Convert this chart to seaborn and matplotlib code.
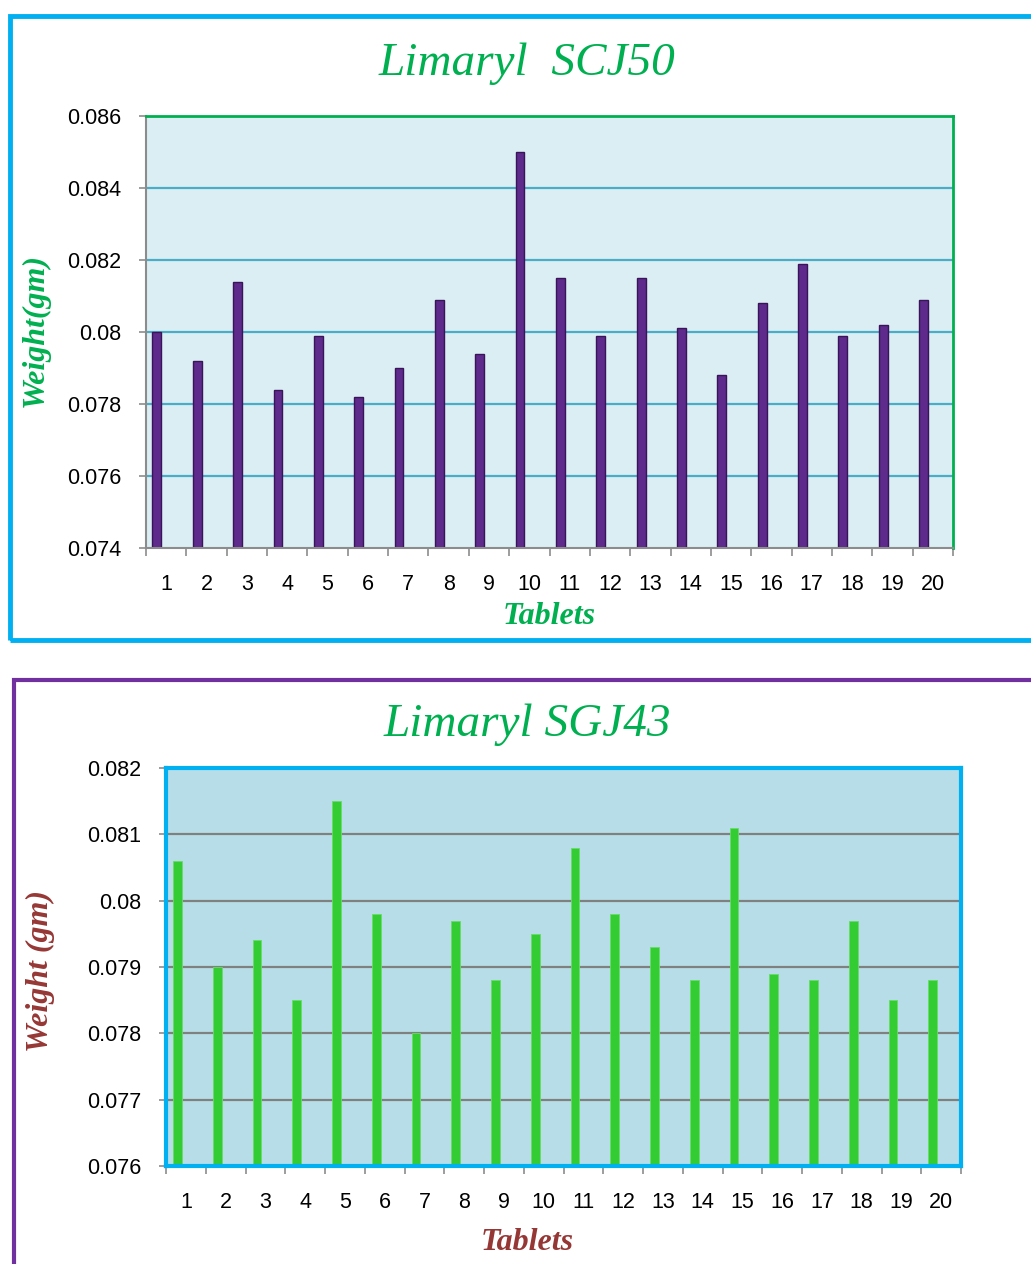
import matplotlib
matplotlib.use("Agg")
import matplotlib.pyplot as plt
import seaborn as sns
import pandas as pd
from matplotlib.patches import Rectangle

tablets = [str(i) for i in range(1, 21)]
scj50 = [0.0800, 0.0792, 0.0814, 0.0784, 0.0799, 0.0782, 0.0790, 0.0809, 0.0794, 0.0850,
         0.0815, 0.0799, 0.0815, 0.0801, 0.0788, 0.0808, 0.0819, 0.0799, 0.0802, 0.0809]
sgj43 = [0.0806, 0.0790, 0.0794, 0.0785, 0.0815, 0.0798, 0.0780, 0.0797, 0.0788, 0.0795,
         0.0808, 0.0798, 0.0793, 0.0788, 0.0811, 0.0789, 0.0788, 0.0797, 0.0785, 0.0788]
yticks_top = [0.074, 0.076, 0.078, 0.080, 0.082, 0.084, 0.086]
ylabels_top = ["0.074", "0.076", "0.078", "0.08", "0.082", "0.084", "0.086"]
yticks_bot = [0.076, 0.077, 0.078, 0.079, 0.080, 0.081, 0.082]
ylabels_bot = ["0.076", "0.077", "0.078", "0.079", "0.08", "0.081", "0.082"]

sns.set_theme(style="white")
plt.rcParams['font.family'] = ['Liberation Sans', 'DejaVu Sans']

W, H = 1031, 1264
fig = plt.figure(figsize=(W / 100, H / 100), dpi=100)

def fx(x): return x / W
def fy(y): return 1 - y / H

# panel borders
fig.patches.append(Rectangle((fx(10), fy(640)), fx(1040 - 10), fy(16) - fy(640),
                             transform=fig.transFigure, fill=False, ec="#00B0F0", lw=3.5, zorder=0))
fig.patches.append(Rectangle((fx(14), fy(1290)), fx(1040 - 14), fy(680) - fy(1290),
                             transform=fig.transFigure, fill=False, ec="#7030A0", lw=3, zorder=0))

title_font = dict(family=['Liberation Serif', 'DejaVu Serif'], style='italic')
label_font = dict(family=['Liberation Serif', 'DejaVu Serif'], style='italic', weight='bold')
TICK_FS = 15.5

def style_axes(ax, ticks, labels, lo, hi, gridcolor, bg):
    ax.set_facecolor(bg)
    ax.set_ylim(lo, hi)
    ax.set_xlim(-0.5, 19.5)
    ax.set_yticks(ticks)
    ax.set_yticklabels(labels, fontsize=TICK_FS, color="black")
    ax.set_xticks(range(20))
    ax.set_xticklabels(tablets, fontsize=TICK_FS, color="black")
    ax.set_xticks([i - 0.5 for i in range(21)], minor=True)
    ax.tick_params(axis='x', which='major', length=0, pad=19)
    ax.tick_params(axis='x', which='minor', length=6, width=1.2, color="#8C8C8C", direction='out', bottom=True)
    ax.tick_params(axis='y', which='major', length=5, width=1.2, color="#8C8C8C", direction='out', left=True, pad=13)
    for t in ticks[1:-1]:
        ax.axhline(t, color=gridcolor, lw=1.6, zorder=0.5)

def shift_bars(ax, dx):
    for p in ax.patches:
        p.set_x(p.get_x() + dx)

# ---------- Top chart ----------
ax1 = fig.add_axes([fx(146), fy(548), fx(953 - 146), fy(116) - fy(548)])
df1 = pd.DataFrame({"Tablet": tablets, "Weight": scj50})
sns.barplot(data=df1, x="Tablet", y="Weight", ax=ax1, color="#5E2A8C", width=0.22,
            saturation=1, edgecolor="#3A1458", linewidth=1.0, zorder=2)
shift_bars(ax1, -0.23)
style_axes(ax1, yticks_top, ylabels_top, 0.074, 0.086, "#4BACC6", "#DAEEF3")
for s in ["top", "right"]:
    ax1.spines[s].set_color("#00B050"); ax1.spines[s].set_linewidth(2)
for s in ["left", "bottom"]:
    ax1.spines[s].set_color("#8C8C8C"); ax1.spines[s].set_linewidth(1.5)
ax1.set_xlabel("Tablets", color="#00B050", fontsize=23, va="center", ha="center", **label_font)
ax1.xaxis.set_label_coords(0.50, (548 - 617) / 432)
ax1.set_ylabel("Weight(gm)", color="#00B050", fontsize=23, va="center", ha="center", **label_font)
ax1.yaxis.set_label_coords((35 - 146) / 807, (548 - 330) / 432)
fig.text(fx(527), fy(64), "Limaryl  SCJ50", ha="center", va="center", color="#00B050",
         fontsize=34, **title_font)

# ---------- Bottom chart ----------
ax2 = fig.add_axes([fx(166), fy(1166), fx(961 - 166), fy(768) - fy(1166)])
df2 = pd.DataFrame({"Tablet": tablets, "Weight": sgj43})
sns.barplot(data=df2, x="Tablet", y="Weight", ax=ax2, color="#33CC33", width=0.22,
            saturation=1, edgecolor="#66DD66", linewidth=0.6, zorder=2)
shift_bars(ax2, -0.21)
style_axes(ax2, yticks_bot, ylabels_bot, 0.076, 0.082, "#808080", "#B7DEE8")
for s in ["top", "right", "bottom", "left"]:
    ax2.spines[s].set_color("#00B0F0"); ax2.spines[s].set_linewidth(3)
ax2.set_xlabel("Tablets", color="#953735", fontsize=23, va="center", ha="center", **label_font)
ax2.xaxis.set_label_coords((527 - 166) / 795, (1166 - 1242) / 398)
ax2.set_ylabel("Weight (gm)", color="#953735", fontsize=23, va="center", ha="center", **label_font)
ax2.yaxis.set_label_coords((40 - 166) / 795, (1166 - 971) / 398)
fig.text(fx(527), fy(725), "Limaryl SGJ43", ha="center", va="center", color="#00B050",
         fontsize=34, **title_font)

fig.savefig("out.png", dpi=100)
